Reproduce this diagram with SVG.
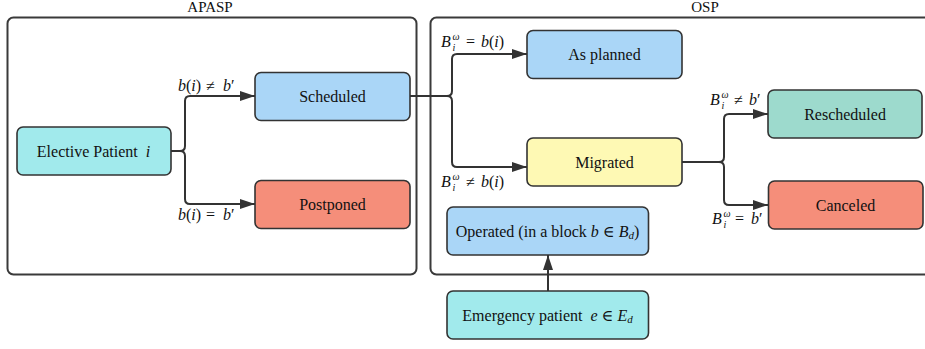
<svg xmlns="http://www.w3.org/2000/svg" width="925" height="349" viewBox="0 0 925 349">
<style>
.cont{fill:none;stroke:#3a3a3a;stroke-width:2}
.node{stroke:#333;stroke-width:1.6}
.t{font-family:"Liberation Serif","DejaVu Serif",serif;font-size:16px;fill:#111;text-anchor:middle;dominant-baseline:central}
.ttl{font-family:"Liberation Serif","DejaVu Serif",serif;font-size:15px;fill:#111;text-anchor:middle}
.lb{font-family:"Liberation Serif","DejaVu Serif",serif;font-size:16px;fill:#111}
.it{font-style:italic}
.sm{font-family:"Liberation Serif","DejaVu Serif",serif;font-size:10px;font-style:italic;fill:#111}
.conn{fill:none;stroke:#333;stroke-width:2}
.cyan{fill:#a1eaec}
.blue{fill:#aad6f7}
.red{fill:#f58e7a}
.yel{fill:#fef9b4}
.teal{fill:#9ddacd}
</style>
<defs>
<marker id="arr" markerUnits="userSpaceOnUse" markerWidth="15" markerHeight="10" refX="15" refY="5" orient="auto">
<path d="M0,0 L15,5 L0,10 z" fill="#333"/>
</marker>
</defs>

<g id="apasp">
<rect class="cont" x="7.5" y="17.5" width="409" height="257" rx="6"/>
<text class="ttl" x="210" y="12">APASP</text>
</g>
<g id="osp">
<rect class="cont" x="430.5" y="17.5" width="549" height="257" rx="6"/>
<text class="ttl" x="705" y="12">OSP</text>
</g>

<g id="connectors">
<path class="conn" marker-end="url(#arr)" d="M171,151 H180 Q185,151 185,146 V101 Q185,96 190,96 H255"/>
<path class="conn" marker-end="url(#arr)" d="M180,151 Q185,151 185,156 V199 Q185,204 190,204 H255"/>
<path class="conn" marker-end="url(#arr)" d="M410,96 H447 Q452,96 452,91 V59 Q452,54 457,54 H527"/>
<path class="conn" marker-end="url(#arr)" d="M447,96 Q452,96 452,101 V162 Q452,167 457,167 H527"/>
<path class="conn" marker-end="url(#arr)" d="M682,162 H719 Q724,162 724,157 V119 Q724,114 729,114 H768"/>
<path class="conn" marker-end="url(#arr)" d="M719,162 Q724,162 724,167 V200 Q724,205 729,205 H768"/>
<path class="conn" marker-end="url(#arr)" d="M548,291 V255"/>
</g>

<g id="labels">
<text class="lb" x="178" y="91"><tspan class="it">b</tspan>(<tspan class="it">i</tspan>)</text>
<text class="lb" x="206" y="91">≠</text>
<text class="lb" x="223" y="91"><tspan class="it">b</tspan>′</text>

<text class="lb" x="178" y="220"><tspan class="it">b</tspan>(<tspan class="it">i</tspan>)</text>
<text class="lb" x="206" y="220">=</text>
<text class="lb" x="223" y="220"><tspan class="it">b</tspan>′</text>

<text class="lb it" x="441" y="47">B</text>
<text class="sm" x="452.5" y="40">ω</text>
<text class="sm" x="452.5" y="51">i</text>
<text class="lb" x="466" y="47">=</text>
<text class="lb" x="481" y="47"><tspan class="it">b</tspan>(<tspan class="it">i</tspan>)</text>

<text class="lb it" x="441" y="187">B</text>
<text class="sm" x="452.5" y="180">ω</text>
<text class="sm" x="452.5" y="191">i</text>
<text class="lb" x="466" y="187">≠</text>
<text class="lb" x="481" y="187"><tspan class="it">b</tspan>(<tspan class="it">i</tspan>)</text>

<text class="lb it" x="710" y="105">B</text>
<text class="sm" x="721.5" y="98">ω</text>
<text class="sm" x="721.5" y="109">i</text>
<text class="lb" x="734" y="105">≠</text>
<text class="lb" x="749" y="105"><tspan class="it">b</tspan>′</text>

<text class="lb it" x="712" y="224">B</text>
<text class="sm" x="723.5" y="217">ω</text>
<text class="sm" x="723.5" y="228">i</text>
<text class="lb" x="735" y="224">=</text>
<text class="lb" x="751" y="224"><tspan class="it">b</tspan>′</text>
</g>

<g id="elective">
<rect class="node cyan" x="17" y="127" width="154" height="48" rx="6"/>
<text class="t" x="93.5" y="151">Elective Patient&#160; <tspan class="it">i</tspan></text>
</g>
<g id="scheduled">
<rect class="node blue" x="255" y="72.5" width="155" height="48" rx="6"/>
<text class="t" x="332.5" y="96.5">Scheduled</text>
</g>
<g id="postponed">
<rect class="node red" x="255" y="180.5" width="155" height="48" rx="6"/>
<text class="t" x="332.5" y="204.5">Postponed</text>
</g>
<g id="asplanned">
<rect class="node blue" x="527" y="30.5" width="155" height="48" rx="6"/>
<text class="t" x="604.5" y="54.5">As planned</text>
</g>
<g id="migrated">
<rect class="node yel" x="527" y="138" width="155" height="48" rx="6"/>
<text class="t" x="604.5" y="162">Migrated</text>
</g>
<g id="rescheduled">
<rect class="node teal" x="768" y="90" width="154" height="48" rx="6"/>
<text class="t" x="845" y="114">Rescheduled</text>
</g>
<g id="canceled">
<rect class="node red" x="768.5" y="181" width="154.5" height="48" rx="6"/>
<text class="t" x="845.5" y="205">Canceled</text>
</g>
<g id="operated">
<rect class="node blue" x="447" y="207" width="201.5" height="48" rx="6"/>
<text class="t" x="547.5" y="231">Operated (in a block <tspan class="it">b</tspan> ∈ <tspan class="it">B</tspan><tspan class="it" font-size="11" dy="4">d</tspan><tspan dy="-4">)</tspan></text>
</g>
<g id="emergency">
<rect class="node cyan" x="447" y="291" width="201.5" height="48" rx="6"/>
<text class="t" x="547.5" y="315">Emergency patient&#160; <tspan class="it">e</tspan> ∈ <tspan class="it">E</tspan><tspan class="it" font-size="11" dy="4">d</tspan></text>
</g>
</svg>
